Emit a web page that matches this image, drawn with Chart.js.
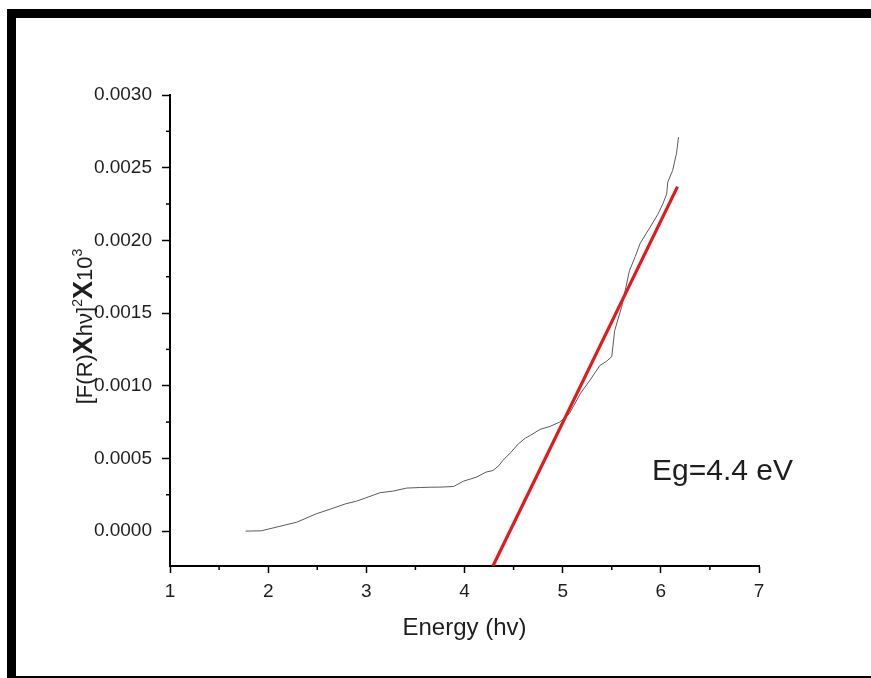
<!DOCTYPE html>
<html lang="en">
<head>
<meta charset="UTF-8">
<title>Eg=4.4 eV</title>
<script src="https://cdn.jsdelivr.net/npm/chart.js"></script>
<style>
    body {
        margin: 0;
        background: #ffffff;
    }

    .wrap {
        position: relative;
        width: 871px;
        height: 678px;
        overflow: hidden;
    }

    .wrap canvas {
        position: absolute;
        left: 0;
        top: 0;
    }

    .frame {
        position: absolute;
        left: 7px;
        top: 9px;
        right: 0;
        bottom: 0;
        border-top: 9px solid #000;
        border-left: 9px solid #000;
        border-bottom: 2px solid #000;
        pointer-events: none;
    }
</style>
</head>
<body>

<div class="wrap">
    <canvas id="chart" width="871" height="678"></canvas>
    <div class="frame"></div>
</div>

<script>
    const energy = [1.77, 1.93, 2.10, 2.29, 2.49, 2.65, 2.79, 2.90, 3.02, 3.14, 3.27, 3.41, 3.55, 3.65, 3.77, 3.89,
        3.99, 4.06, 4.12, 4.22, 4.29, 4.35, 4.39, 4.47, 4.55, 4.62, 4.67, 4.77, 4.87, 4.97, 5.07, 5.18, 5.28, 5.38,
        5.45, 5.50, 5.53, 5.60, 5.68, 5.74, 5.79, 5.89, 5.97, 6.02, 6.06, 6.07, 6.12, 6.16, 6.18];
    const signal = [0.0, 0.000002, 0.00003, 0.000061, 0.000119, 0.000155, 0.000188, 0.000206, 0.000235, 0.000264,
        0.000275, 0.000296, 0.0003, 0.000302, 0.000303, 0.000307, 0.000344, 0.000358, 0.000371, 0.000406, 0.000417,
        0.00045, 0.000486, 0.00054, 0.000601, 0.00064, 0.000658, 0.0007, 0.00072, 0.00075, 0.00081, 0.000946, 0.00104,
        0.00114, 0.00117, 0.0012, 0.00138, 0.00154, 0.00179, 0.00189, 0.00198, 0.00209, 0.00218, 0.00225, 0.00232,
        0.0024, 0.00248, 0.0026, 0.00271];

    // linear fit (red)
    const fitEnergy = [4.29, 6.17];
    const fitSignal = [-0.00024, 0.00237];

    const xTicks = [1, 2, 3, 4, 5, 6, 7];
    const xMinor = [1.5, 2.5, 3.5, 4.5, 5.5, 6.5];
    const yTicks = [0, 0.0005, 0.001, 0.0015, 0.002, 0.0025, 0.003];
    const yMinor = [0.00025, 0.00075, 0.00125, 0.00175, 0.00225, 0.00275];

    const FONT = '"Liberation Sans", Arial, sans-serif';
    const INK = '#1e1e1e';

    // small outward ticks between the labelled ones
    const minorTicks = {
        id: 'minorTicks',
        afterDraw(chart) {
            const { ctx, scales: { x, y } } = chart;
            ctx.save();
            ctx.strokeStyle = '#000';
            ctx.lineWidth = 1.5;
            xMinor.forEach(v => {
                const px = x.getPixelForValue(v);
                ctx.beginPath();
                ctx.moveTo(px, x.top);
                ctx.lineTo(px, x.top + 4);
                ctx.stroke();
            });
            yMinor.forEach(v => {
                const py = y.getPixelForValue(v);
                ctx.beginPath();
                ctx.moveTo(y.right, py);
                ctx.lineTo(y.right - 4, py);
                ctx.stroke();
            });
            ctx.restore();
        }
    };

    // y axis title with superscripts and bold X
    const yTitle = {
        id: 'yTitle',
        afterDraw(chart) {
            const { ctx, chartArea } = chart;
            const parts = [
                { t: '[F(R)', f: '22px ' + FONT, dy: 0 },
                { t: 'X', f: 'bold 27px ' + FONT, dy: 0 },
                { t: 'hν]', f: '22px ' + FONT, dy: 0 },
                { t: '2', f: '14px ' + FONT, dy: -10 },
                { t: 'X', f: 'bold 27px ' + FONT, dy: 0 },
                { t: '10', f: '22px ' + FONT, dy: 0 },
                { t: '3', f: '14px ' + FONT, dy: -10 }
            ];
            ctx.save();
            ctx.fillStyle = INK;
            ctx.textBaseline = 'alphabetic';
            let total = 0;
            parts.forEach(p => { ctx.font = p.f; p.w = ctx.measureText(p.t).width; total += p.w; });
            ctx.translate(92, (chartArea.top + chartArea.bottom) / 2 - 4);
            ctx.rotate(-Math.PI / 2);
            let cx = -total / 2;
            parts.forEach(p => {
                ctx.font = p.f;
                ctx.fillText(p.t, cx, p.dy);
                cx += p.w;
            });
            ctx.restore();
        }
    };

    const gapLabel = {
        id: 'gapLabel',
        afterDraw(chart) {
            const { ctx } = chart;
            ctx.save();
            ctx.fillStyle = INK;
            ctx.font = '30px ' + FONT;
            ctx.textBaseline = 'alphabetic';
            ctx.fillText('Eg=4.4 eV', 652, 480);
            ctx.restore();
        }
    };

    new Chart(document.getElementById('chart'), {
        type: 'scatter',
        data: {
            datasets: [{
                data: fitEnergy.map((e, i) => ({ x: e, y: fitSignal[i] })),
                showLine: true,
                borderColor: '#e31a1c',
                borderWidth: 3.2,
                pointRadius: 0
            }, {
                data: energy.map((e, i) => ({ x: e, y: signal[i] })),
                showLine: true,
                borderColor: '#5a5a5a',
                borderWidth: 1,
                pointRadius: 0
            }]
        },
        options: {
            responsive: false,
            animation: false,
            layout: { padding: { left: 0, top: 95, right: 112, bottom: 35 } },
            plugins: {
                legend: { display: false },
                tooltip: { enabled: false }
            },
            scales: {
                x: {
                    type: 'linear',
                    min: 1,
                    max: 7,
                    afterBuildTicks: s => { s.ticks = xTicks.map(v => ({ value: v })); },
                    afterFit: s => { s.height = 77; },
                    border: { color: '#000', width: 2 },
                    grid: { drawOnChartArea: false, tickLength: 7, tickColor: '#000', tickWidth: 1.5 },
                    ticks: { color: INK, font: { size: 19, family: FONT }, padding: 7, maxRotation: 0 },
                    title: { display: true, text: 'Energy (hv)', color: INK, font: { size: 24, family: FONT }, padding: 0 }
                },
                y: {
                    type: 'linear',
                    min: -0.00024,
                    max: 0.003,
                    afterBuildTicks: s => { s.ticks = yTicks.map(v => ({ value: v })); },
                    afterFit: s => { s.width = 170; },
                    border: { color: '#000', width: 2 },
                    grid: { drawOnChartArea: false, tickLength: 8, tickColor: '#000', tickWidth: 1.5 },
                    ticks: { color: INK, font: { size: 19, family: FONT }, padding: 10, callback: v => v.toFixed(4) }
                }
            }
        },
        plugins: [minorTicks, yTitle, gapLabel]
    });
</script>

</body>
</html>
